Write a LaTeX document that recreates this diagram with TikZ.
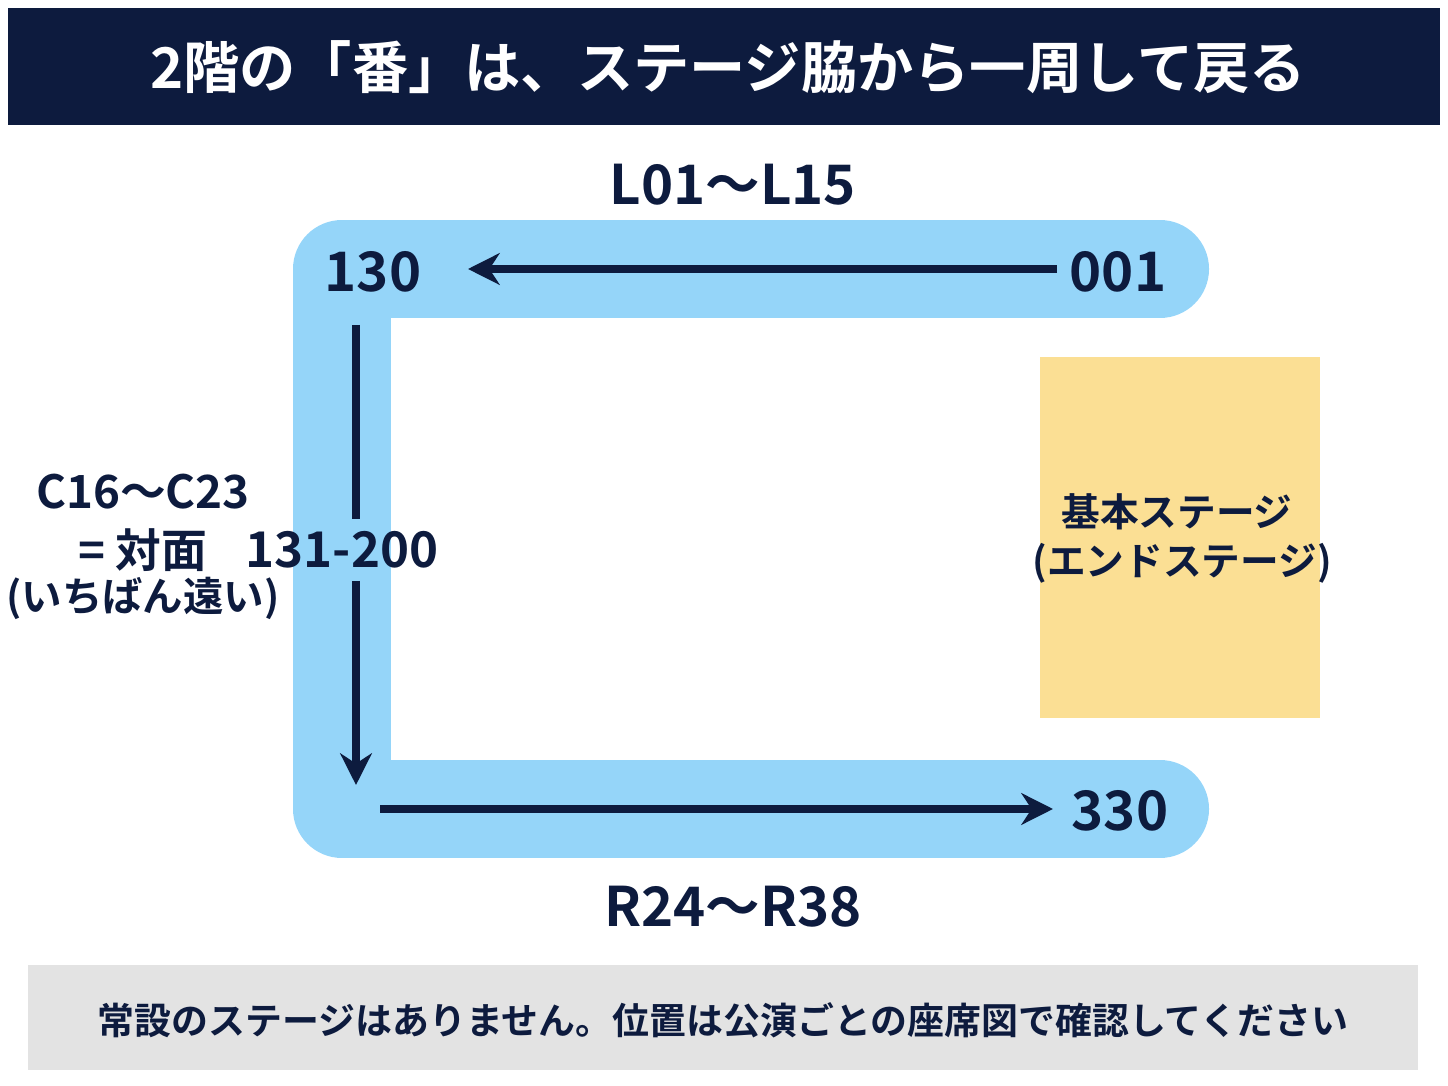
\documentclass[tikz,border=0pt]{standalone}
\usepackage{fontspec}
\setmainfont{Noto Sans CJK JP}[BoldFont={Noto Sans CJK JP Bold}]
\usetikzlibrary{positioning, calc, arrows.meta}
\definecolor{navy}{HTML}{0D1B3E}
\definecolor{lane}{HTML}{95D5F9}
\definecolor{stage}{HTML}{FBDF94}
\definecolor{note}{HTML}{E3E3E3}
\tikzset{
  lbl/.style={font=\bfseries\fontsize{15.5}{18}\selectfont, text=navy},
  side/.style={font=\bfseries\fontsize{13}{15}\selectfont, text=navy},
  flow/.style={draw=navy, line width=2.2pt, -{Stealth[length=9pt,width=9pt]}},
}
\begin{document}
\begin{tikzpicture}[x=0.01cm, y=-0.01cm]
        \useasboundingbox (0,0) rectangle (1448,1086);
        % frames
        \fill[navy] (8,8) rectangle (1440,125);
        \node[font=\bfseries\fontsize{16}{19}\selectfont, text=white] (title) at (728,67) {2階の「番」は、ステージ脇から一周して戻る};
        \draw[lane, line width=0.98cm, line cap=round, line join=round]
            (1160,269) -- (342,269) -- (342,809) -- (1160,809);
        \fill[stage] (1040,357) rectangle (1320,718);
        \fill[note] (28,965) rectangle (1418,1070);
        % nodes
        \node[lbl] (n130) at (373,272) {130};
        \node[lbl] (n001) at (1118,272) {001};
        \node[lbl] (n330) at (1120,811) {330};
        \node[lbl, font=\bfseries\fontsize{14}{16}\selectfont] (mid) at (342,550) {131-200};
        \node[lbl] (top) at (733,185) {L01〜L15};
        \node[lbl] (bottom) at (733,907) {R24〜R38};
        \node[side] (far1) at (143,492) {C16〜C23};
        \node[side] (far2) at (143,550) {= 対面};
        \node[side, font=\bfseries\fontsize{11.5}{14}\selectfont] (far3) at (143,598) {(いちばん遠い)};
        \node[side, font=\bfseries\fontsize{11}{14}\selectfont] (st1) at (1177,512) {基本ステージ};
        \node[side, font=\bfseries\fontsize{11}{14}\selectfont] (st2) at (1182,563) {(エンドステージ)};
        \node[side, font=\bfseries\fontsize{10.5}{13}\selectfont] (memo) at (723,1020) {常設のステージはありません。位置は公演ごとの座席図で確認してください};
        \coordinate (a1) at (1057,269);
        \coordinate (a2) at (468,269);
        \coordinate (v1) at (356,325);
        \coordinate (v4) at (356,785);
        \coordinate (b1) at (380,809);
        \coordinate (b2) at (1053,809);
        % arrows
        \draw[flow] (a1) -- (a2);
        \draw[navy, line width=2.2pt] (v1) -- (mid.north -| v1);
        \draw[flow] (mid.south -| v1) -- (v4);
        \draw[flow] (b1) -- (b2);
\end{tikzpicture}
\end{document}
